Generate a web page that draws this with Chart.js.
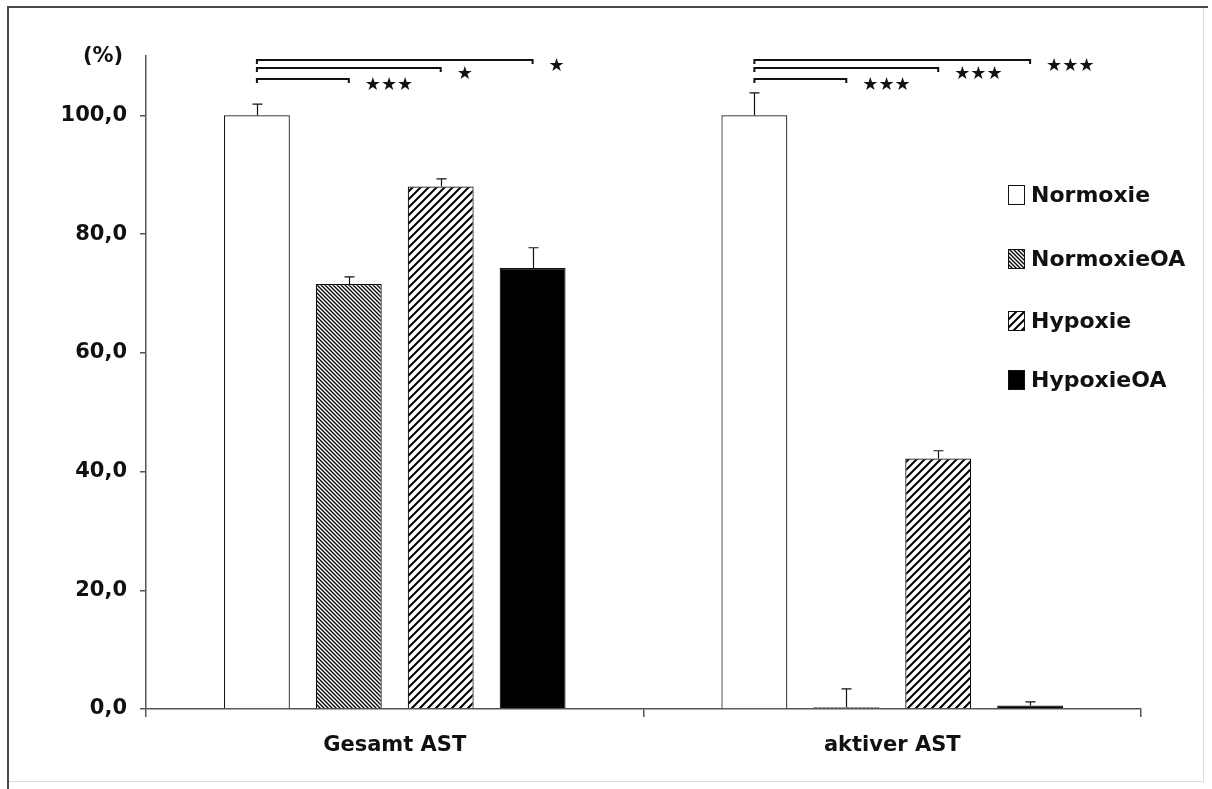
<!DOCTYPE html>
<html lang="de">
<head>
<meta charset="utf-8">
<title>AST</title>
<script src="https://cdn.jsdelivr.net/npm/chart.js@4/dist/chart.umd.min.js"></script>
<style>
  html, body { margin:0; padding:0; background:#fff; }
  #wrap { width:1212px; height:789px; }
</style>
</head>
<body>
<div id="wrap"><canvas id="c" width="1212" height="789"></canvas></div>
<script>
/* Gesamt vs. aktiver AST — barras agrupadas com erro (só para cima) e chaves de significância */
const categories   = ['Gesamt AST', 'aktiver AST'];
const seriesNames  = ['Normoxie', 'NormoxieOA', 'Hypoxie', 'HypoxieOA'];
const normoxie     = [100.0, 100.0];
const normoxieOA   = [71.6, 0.3];
const hypoxie      = [88.0, 42.2];
const hypoxieOA    = [74.3, 0.6];
const normoxieErr  = [1.9, 3.8];
const normoxieOAErr= [1.2, 3.1];
const hypoxieErr   = [1.3, 1.3];
const hypoxieOAErr = [3.4, 0.6];
const yTicks       = [0, 20, 40, 60, 80, 100];
const yMax         = 110;
/* chaves: nível (em %), série alvo (a partir de Normoxie) e rótulos por categoria */
const sigLevels    = [106.2, 107.9, 109.3];
const sigTargets   = [1, 2, 3];
const sigGesamt    = ['★★★', '★', '★'];
const sigAktiver   = ['★★★', '★★★', '★★★'];

const values = [normoxie, normoxieOA, hypoxie, hypoxieOA];
const errors = [normoxieErr, normoxieOAErr, hypoxieErr, hypoxieOAErr];
const sigLabels = [sigGesamt, sigAktiver];

const FONT = '"DejaVu Sans", Verdana, sans-serif';
const INK = '#111';
const AXIS = '#555';

const cv = document.getElementById('c');
const ctx = cv.getContext('2d');

function hatch(size, lw, dir){
  const t = document.createElement('canvas');
  t.width = t.height = size;
  const x = t.getContext('2d');
  x.fillStyle = '#fff'; x.fillRect(0, 0, size, size);
  x.strokeStyle = '#000'; x.lineWidth = lw; x.lineCap = 'square';
  x.beginPath();
  for (const k of [-size, 0, size]){
    if (dir === '/'){ x.moveTo(k, size); x.lineTo(k + size, 0); }
    else { x.moveTo(k, 0); x.lineTo(k + size, size); }
  }
  x.stroke();
  return ctx.createPattern(t, 'repeat');
}

const fills = ['#ffffff', hatch(4, 1.3, '\\'), hatch(8, 2, '/'), '#000000'];

const annot = {
  id: 'annot',
  beforeDraw(chart){
    const c = chart.ctx;
    c.save();
    c.fillStyle = '#fff'; c.fillRect(0, 0, chart.width, chart.height);
    c.strokeStyle = '#dcdcdc'; c.lineWidth = 1;
    c.beginPath(); c.moveTo(1203.5, 8); c.lineTo(1203.5, 781.5); c.lineTo(8, 781.5); c.stroke();
    c.strokeStyle = '#4a4a4a'; c.lineWidth = 2;
    c.beginPath(); c.moveTo(8, 789); c.lineTo(8, 7); c.lineTo(1208, 7); c.stroke();
    c.restore();
  },
  afterDatasetsDraw(chart){
    const c = chart.ctx, ys = chart.scales.y;
    c.save();
    // barras de erro
    c.strokeStyle = INK; c.lineWidth = 1.2;
    values.forEach((vals, i) => {
      const meta = chart.getDatasetMeta(i);
      vals.forEach((v, j) => {
        const bar = meta.data[j];
        const x = Math.round(bar.x) + 0.5;
        const yt = ys.getPixelForValue(v + errors[i][j]);
        c.beginPath();
        c.moveTo(x, bar.y); c.lineTo(x, yt);
        c.moveTo(x - 5, yt); c.lineTo(x + 5, yt);
        c.stroke();
      });
    });
    // chaves de significância
    c.lineWidth = 2; c.fillStyle = INK;
    c.font = '18px ' + FONT; c.textBaseline = 'middle'; c.textAlign = 'left';
    categories.forEach((cat, j) => {
      const x0 = chart.getDatasetMeta(0).data[j].x;
      sigLevels.forEach((lvl, k) => {
        const x1 = chart.getDatasetMeta(sigTargets[k]).data[j].x;
        const y = Math.round(ys.getPixelForValue(lvl));
        c.beginPath();
        c.moveTo(x0, y + 4); c.lineTo(x0, y); c.lineTo(x1, y); c.lineTo(x1, y + 4);
        c.stroke();
        c.fillText(sigLabels[j][k], x1 + 16, y + 6);
      });
    });
    // unidade do eixo
    c.font = 'bold 21px ' + FONT; c.textAlign = 'center';
    c.fillText('(%)', 103, 57);
    // legenda
    c.font = 'bold 22px ' + FONT; c.textAlign = 'left';
    seriesNames.forEach((name, i) => {
      const cy = [195, 259, 321, 380][i];
      c.fillStyle = fills[i];
      c.fillRect(1008, cy - 10, 17, 20);
      c.strokeStyle = INK; c.lineWidth = 1;
      c.strokeRect(1008.5, cy - 9.5, 16, 19);
      c.fillStyle = INK;
      c.fillText(name, 1031, cy + 1);
    });
    c.restore();
  }
};

new Chart(ctx, {
  type: 'bar',
  data: {
    labels: categories,
    datasets: seriesNames.map((name, i) => ({
      label: name,
      data: values[i],
      backgroundColor: fills[i],
      borderColor: INK,
      borderWidth: 1.2,
      categoryPercentage: 0.739,
      barPercentage: 0.717
    }))
  },
  options: {
    responsive: false,
    animation: false,
    layout: { padding: { left: 0, right: 71, top: 56, bottom: 0 } },
    plugins: { legend: { display: false }, tooltip: { enabled: false } },
    scales: {
      x: {
        offset: true,
        grid: { display: true, offset: true, drawOnChartArea: false, drawTicks: true, tickLength: 8, color: AXIS, lineWidth: 1.5 },
        border: { display: true, color: AXIS, width: 1.5 },
        ticks: { color: INK, padding: 16, font: { family: FONT, size: 21, weight: 'bold' } },
        afterFit: s => { s.height = 80; }
      },
      y: {
        min: 0, max: yMax,
        afterBuildTicks: s => { s.ticks = yTicks.map(v => ({ value: v })); },
        grid: { display: true, drawOnChartArea: false, drawTicks: true, tickLength: 6, color: AXIS, lineWidth: 1.5 },
        border: { display: true, color: AXIS, width: 1.5 },
        ticks: {
          color: INK, padding: 13,
          font: { family: FONT, size: 21, weight: 'bold' },
          callback: v => v.toFixed(1).replace('.', ',')
        },
        afterFit: s => { s.width = 146; }
      }
    }
  },
  plugins: [annot]
});
</script>
</body>
</html>
